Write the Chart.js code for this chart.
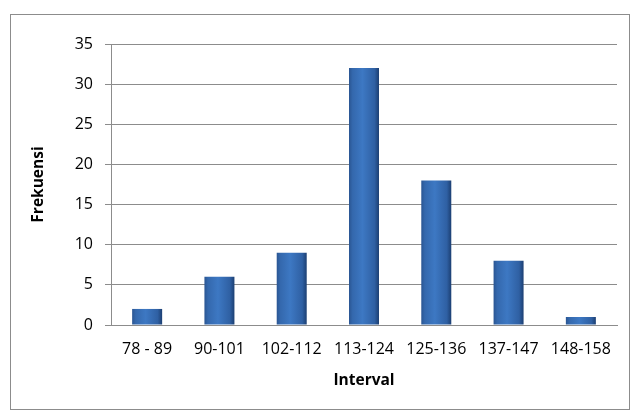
<!DOCTYPE html>
<html><head><meta charset="utf-8">
<script src="https://cdn.jsdelivr.net/npm/chart.js@4/dist/chart.umd.min.js"></script>
<style>
html,body{margin:0;padding:0;background:#fff;}
#wrap{position:relative;width:635px;height:416px;}
#frame{position:absolute;left:10px;top:14px;width:620px;height:396px;border:1px solid #8c8c8c;box-sizing:border-box;}
canvas{position:absolute;left:0;top:0;}
</style></head><body>
<div id="wrap"><div id="frame"></div><canvas id="c" width="635" height="416"></canvas></div>
<script>
const categories = ['78 - 89','90-101','102-112','113-124','125-136','137-147','148-158'];
const frekuensi = [2, 6, 9, 32, 18, 8, 1];
const yTitle = 'Frekuensi';
const xTitle = 'Interval';

const FONT = "'Open Sans', 'Liberation Sans', sans-serif";
function barFill(ctx){
  const chart = ctx.chart;
  if (!chart.chartArea || !chart.scales.x) return '#3f74b8';
  const xs = chart.scales.x;
  const cx = xs.getPixelForValue(ctx.dataIndex);
  const half = xs.width / categories.length * 0.415 / 2;
  const g = chart.ctx.createLinearGradient(cx - half, 0, cx + half, 0);
  g.addColorStop(0, '#2a5592');
  g.addColorStop(0.12, '#3468ad');
  g.addColorStop(0.45, '#3d78c3');
  g.addColorStop(0.85, '#2f60a3');
  g.addColorStop(1, '#1c3f72');
  return g;
}
new Chart(document.getElementById('c'), {
  type: 'bar',
  data: { labels: categories, datasets: [{ data: frekuensi, backgroundColor: barFill, borderWidth: 0, categoryPercentage: 1, barPercentage: 0.415 }] },
  options: {
    responsive: false, animation: false,
    layout: { padding: { left: 29, top: 44, right: 18, bottom: 22 } },
    plugins: { legend: { display: false }, tooltip: { enabled: false } },
    scales: {
      x: {
        grid: { display: false, drawTicks: false },
        border: { color: '#8c8c8c' },
        ticks: { color: '#000', font: { family: FONT, size: 16 }, padding: 15, maxRotation: 0, autoSkip: false },
        title: { display: true, text: xTitle, color: '#000', font: { family: FONT, size: 15.5, weight: 'bold' }, padding: { top: 6 } },
        afterFit: s => { s.height = 69; }
      },
      y: {
        min: 0, max: 35,
        grid: { color: '#8c8c8c', tickLength: 6, tickColor: '#8c8c8c' },
        border: { color: '#8c8c8c' },
        ticks: { stepSize: 5, color: '#000', font: { family: FONT, size: 16 }, padding: 12 },
        title: { display: true, text: yTitle, color: '#000', font: { family: FONT, size: 15.5, weight: 'bold' }, padding: 0 },
        afterFit: s => { s.width = 82; }
      }
    }
  }
});
</script></body></html>
